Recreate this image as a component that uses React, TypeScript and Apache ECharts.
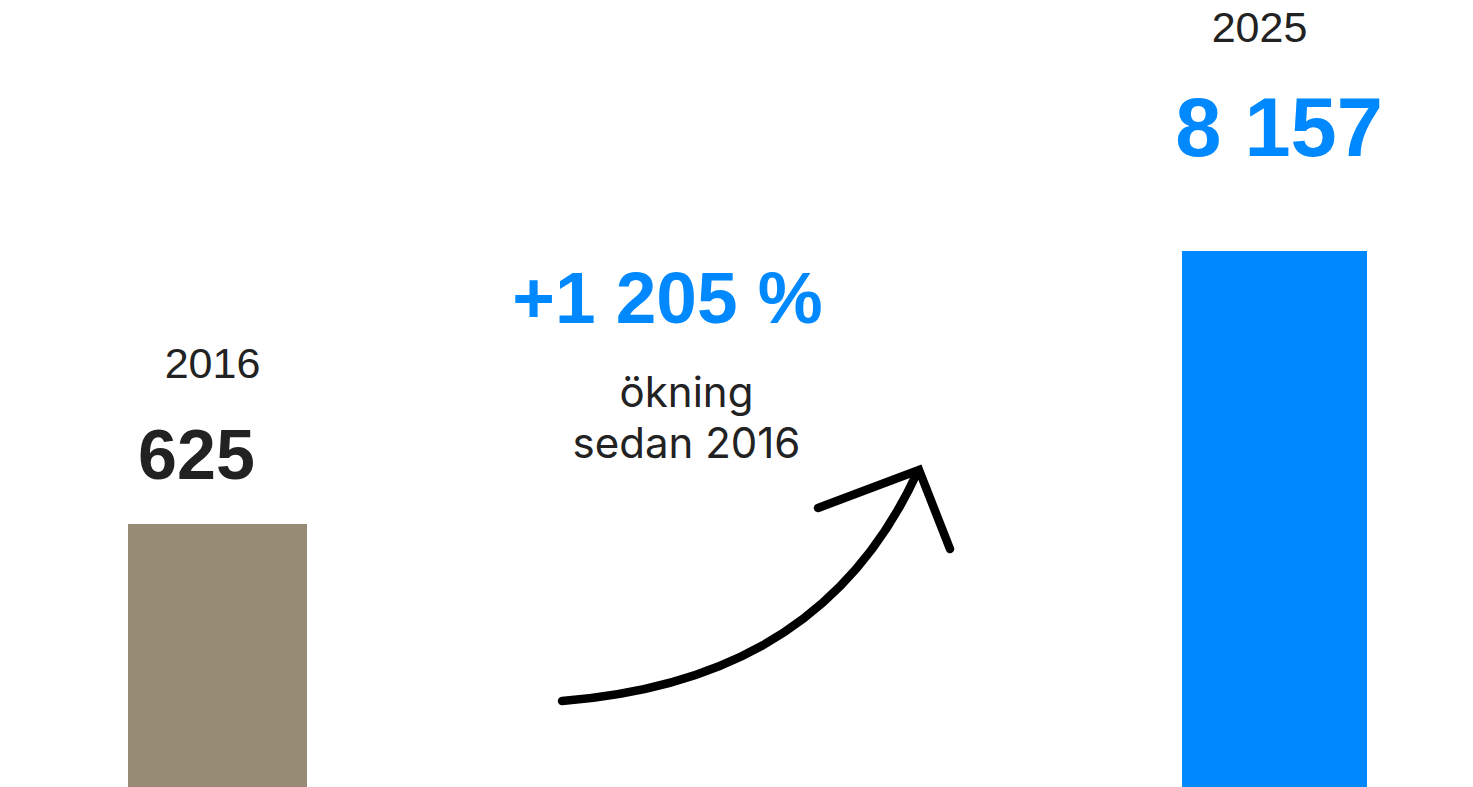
import React, { useEffect, useRef } from "react";
import * as echarts from "echarts";

// ---- data ----
const categories: string[] = ["2016", "2025"];
const values: number[] = [625, 8157];
const captionWord: string = "ökning";
const captionSince: string = "sedan";

const BLUE = "#0089FF";
const BROWN = "#978B76";
const DARK = "#222222";
const FONT = "'Liberation Sans', Arial, sans-serif";
const CAPTION_FONT = "Inter, 'Open Sans', sans-serif";

function fmt(n: number): string {
  return String(Math.round(n)).replace(/\B(?=(\d{3})+(?!\d))/g, " ");
}

export default function App() {
  const ref = useRef<HTMLDivElement>(null);

  useEffect(() => {
    if (!ref.current) return;
    const chart = echarts.init(ref.current, null, { renderer: "svg" });

    const pct = ((values[1] - values[0]) / values[0]) * 100;
    const pctText = "+" + fmt(pct) + " %";

    const labelFormatter = (p: any) =>
      `{y|${p.name}}\n{v|${fmt(p.value)}}`;

    const option: any = {
      animation: false,
      backgroundColor: "#ffffff",
      grid: { left: 220.5, right: 198.5, top: 0, bottom: 0, containLabel: false },
      xAxis: {
        type: "category",
        data: categories,
        boundaryGap: false,
        show: false,
      },
      yAxis: {
        type: "log",
        logBase: 10,
        min: 52.6,
        max: 86520,
        show: false,
        splitLine: { show: false },
      },
      series: [
        {
          type: "bar",
          name: categories[0],
          data: categories.map((_, j) => (j === 0 ? values[0] : null)),
          barWidth: 179,
          barGap: "-100%",
          clip: false,
          itemStyle: { color: BROWN },
          label: {
            show: true,
            position: "top",
            distance: 5,
            formatter: labelFormatter,
            rich: {
              y: {
                fontFamily: FONT,
                fontSize: 43,
                lineHeight: 55,
                color: DARK,
                padding: [0, 10, 0, 0],
              },
              v: {
                fontFamily: FONT,
                fontSize: 70,
                fontWeight: "bold",
                lineHeight: 128,
                color: DARK,
                padding: [0, 42, 0, 0],
              },
            },
          },
        },
        {
          type: "bar",
          name: categories[1],
          data: categories.map((_, j) => (j === 1 ? values[1] : null)),
          barWidth: 185,
          barGap: "-100%",
          clip: false,
          itemStyle: { color: BLUE },
          label: {
            show: true,
            position: "top",
            distance: 48,
            formatter: labelFormatter,
            rich: {
              y: {
                fontFamily: FONT,
                fontSize: 43,
                lineHeight: 50,
                color: DARK,
                padding: [0, 30, 0, 0],
              },
              v: {
                fontFamily: FONT,
                fontSize: 83,
                fontWeight: "bold",
                lineHeight: 151,
                color: BLUE,
                padding: [0, 0, 0, 9],
              },
            },
          },
        },
      ],
      graphic: [
        {
          type: "text",
          x: 667.5,
          y: 297.5,
          style: {
            text: pctText,
            fontFamily: FONT,
            fontSize: 73,
            fontWeight: "bold",
            fill: BLUE,
            textAlign: "center",
            textVerticalAlign: "middle",
          },
        },
        {
          type: "text",
          x: 686.5,
          y: 417,
          style: {
            text: captionWord + "\n" + captionSince + " " + categories[0],
            fontFamily: CAPTION_FONT,
            fontSize: 42,
            lineHeight: 51,
            fill: DARK,
            textAlign: "center",
            textVerticalAlign: "middle",
          },
        },
        {
          type: "bezierCurve",
          shape: {
            x1: 562,
            y1: 701,
            cpx1: 700,
            cpy1: 690,
            cpx2: 840,
            cpy2: 640,
            x2: 917,
            y2: 473,
          },
          style: {
            stroke: "#000000",
            lineWidth: 8.5,
            fill: null,
            lineCap: "round",
          },
        },
        {
          type: "polyline",
          shape: {
            points: [
              [818, 508],
              [919, 470],
              [950, 549],
            ],
          },
          style: {
            stroke: "#000000",
            lineWidth: 8.5,
            fill: null,
            lineCap: "round",
            lineJoin: "miter",
          },
        },
      ],
    };

    chart.setOption(option);
    return () => chart.dispose();
  }, []);

  return (
    <div
      ref={ref}
      style={{ position: "absolute", left: 0, top: 0, width: 1473, height: 787 }}
    />
  );
}
